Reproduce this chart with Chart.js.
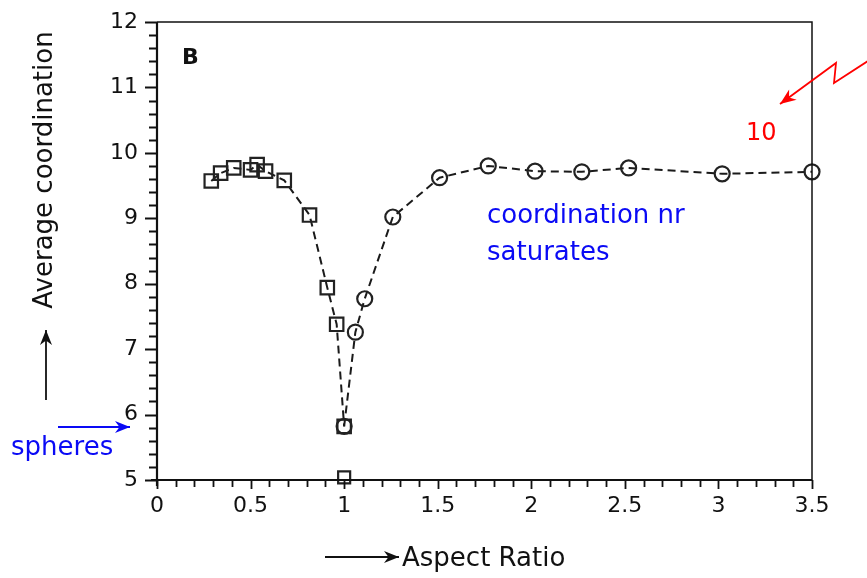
<!DOCTYPE html>
<html>
<head>
<meta charset="utf-8">
<script src="https://cdn.jsdelivr.net/npm/chart.js@4.4.1/dist/chart.umd.min.js"></script>
<style>
    body { margin: 0; background: #fff; }
    #wrap { width: 867px; height: 578px; }
</style>
</head>
<body>
<div id="wrap"><canvas id="coordination_chart" width="867" height="578"></canvas></div>
<script>
const squareX = [0.29, 0.34, 0.41, 0.50, 0.535, 0.58, 0.68, 0.815, 0.91, 0.96, 1.0];
const squareY = [9.57, 9.69, 9.77, 9.74, 9.82, 9.72, 9.58, 9.05, 7.94, 7.38, 5.82];
const circleX = [1.0, 1.06, 1.11, 1.26, 1.51, 1.77, 2.02, 2.27, 2.52, 3.02, 3.5];
const circleY = [5.82, 7.26, 7.77, 9.02, 9.62, 9.80, 9.72, 9.71, 9.77, 9.68, 9.71];
const outlierX = [1.0];
const outlierY = [5.04];

const FONT = "'DejaVu Sans', sans-serif";

function toPoints(xs, ys) {
    return xs.map((x, i) => ({x: x, y: ys[i]}));
}

function arrow(ctx, pts, color, width, head) {
    ctx.save();
    ctx.strokeStyle = color;
    ctx.fillStyle = color;
    ctx.lineWidth = width;
    ctx.beginPath();
    ctx.moveTo(pts[0][0], pts[0][1]);
    for (let i = 1; i < pts.length; i++) ctx.lineTo(pts[i][0], pts[i][1]);
    ctx.stroke();
    let [x1, y1] = pts[pts.length - 2];
    let [x2, y2] = pts[pts.length - 1];
    let a = Math.atan2(y2 - y1, x2 - x1);
    ctx.beginPath();
    ctx.moveTo(x2, y2);
    ctx.lineTo(x2 - head * Math.cos(a) + head * 0.4 * Math.sin(a), y2 - head * Math.sin(a) - head * 0.4 * Math.cos(a));
    ctx.lineTo(x2 - head * 0.7 * Math.cos(a), y2 - head * 0.7 * Math.sin(a));
    ctx.lineTo(x2 - head * Math.cos(a) - head * 0.4 * Math.sin(a), y2 - head * Math.sin(a) + head * 0.4 * Math.cos(a));
    ctx.closePath();
    ctx.fill();
    ctx.restore();
}

const decorations = {
    id: "decorations",
    afterDraw(chart) {
        const ctx = chart.ctx;
        const {left, right, top, bottom} = chart.chartArea;
        const xs = chart.scales.x, ys = chart.scales.y;
        ctx.save();
        ctx.strokeStyle = "#111";

        // frame
        ctx.lineWidth = 1.5;
        ctx.beginPath();
        ctx.moveTo(left, top);
        ctx.lineTo(right, top);
        ctx.lineTo(right, bottom);
        ctx.stroke();

        // axes
        ctx.lineWidth = 2.2;
        ctx.beginPath();
        ctx.moveTo(left, top);
        ctx.lineTo(left, bottom + 6);
        ctx.moveTo(left - 6, bottom);
        ctx.lineTo(right, bottom);
        ctx.stroke();

        // ticks, both outward
        ctx.lineWidth = 1.8;
        ctx.beginPath();
        for (let v = ys.min; v <= ys.max + 1e-6; v += 0.2) {
            let p = Math.round(ys.getPixelForValue(v)) + 0.5;
            let major = Math.abs(v - Math.round(v)) < 1e-6;
            ctx.moveTo(left, p);
            ctx.lineTo(left - (major ? 12 : 8), p);
        }
        for (let v = xs.min; v <= xs.max + 1e-6; v += 0.1) {
            let p = Math.round(xs.getPixelForValue(v)) + 0.5;
            let major = Math.abs(v * 2 - Math.round(v * 2)) < 1e-6;
            ctx.moveTo(p, bottom);
            ctx.lineTo(p, bottom + (major ? 9 : 7));
        }
        ctx.stroke();

        // axis titles
        ctx.fillStyle = "#111";
        ctx.font = "26px " + FONT;
        ctx.textAlign = "left";
        ctx.textBaseline = "alphabetic";
        ctx.fillText("Aspect Ratio", 402, 566);
        arrow(ctx, [[325, 557], [399, 557]], "#111", 1.8, 15);

        ctx.save();
        ctx.translate(52, 170);
        ctx.rotate(-Math.PI / 2);
        ctx.textAlign = "center";
        ctx.fillText("Average coordination", 0, 0);
        ctx.restore();
        arrow(ctx, [[46, 400], [46, 330]], "#111", 1.8, 15);

        // panel letter
        ctx.font = "bold 22px " + FONT;
        ctx.fillText("B", 182, 64);

        // blue notes
        ctx.fillStyle = "rgb(10, 10, 245)";
        ctx.font = "26px " + FONT;
        ctx.fillText("coordination nr", 487, 223);
        ctx.fillText("saturates", 487, 260);
        ctx.fillText("spheres", 11, 455);
        arrow(ctx, [[58, 427], [130, 427]], "rgb(10, 10, 245)", 1.8, 15);

        // red note
        ctx.fillStyle = "rgb(255, 0, 0)";
        ctx.font = "24px " + FONT;
        ctx.fillText("10", 746, 140);
        arrow(ctx, [[868, 61], [834, 83], [836, 63], [780, 104]], "rgb(255, 0, 0)", 1.8, 16);

        ctx.restore();
    }
};

const lineStyle = {
    showLine: true,
    clip: false,
    borderColor: "#1a1a1a",
    borderWidth: 2,
    borderDash: [8, 5],
    backgroundColor: "rgba(0,0,0,0)",
    pointBorderColor: "#222",
    pointBackgroundColor: "rgba(0,0,0,0)",
    pointBorderWidth: 2.2
};

new Chart(document.getElementById("coordination_chart").getContext("2d"), {
    type: "scatter",
    data: {
        datasets: [{
            ...lineStyle,
            label: "squares",
            data: toPoints(squareX, squareY),
            pointStyle: "rect",
            pointRadius: 9.5
        }, {
            ...lineStyle,
            label: "circles",
            data: toPoints(circleX, circleY),
            pointStyle: "circle",
            pointRadius: 7.5
        }, {
            ...lineStyle,
            showLine: false,
            label: "outlier",
            data: toPoints(outlierX, outlierY),
            pointStyle: "rect",
            pointRadius: 8.5
        }]
    },
    options: {
        responsive: false,
        animation: false,
        events: [],
        layout: {
            padding: {top: 22, right: 55, left: 0, bottom: 0}
        },
        plugins: {
            legend: {display: false},
            tooltip: {enabled: false}
        },
        scales: {
            x: {
                type: "linear",
                min: 0,
                max: 3.5,
                afterFit: s => { s.height = 98; },
                grid: {display: false, drawTicks: false},
                border: {display: false},
                ticks: {
                    stepSize: 0.5,
                    padding: 13,
                    color: "#111",
                    font: {family: FONT, size: 22},
                    callback: v => String(+v.toFixed(1))
                }
            },
            y: {
                type: "linear",
                min: 5,
                max: 12,
                afterFit: s => { s.width = 157; },
                grid: {display: false, drawTicks: true, tickLength: 17},
                border: {display: false},
                ticks: {
                    stepSize: 1,
                    padding: 2,
                    color: "#111",
                    font: {family: FONT, size: 22}
                }
            }
        }
    },
    plugins: [decorations]
});
</script>
</body>
</html>
